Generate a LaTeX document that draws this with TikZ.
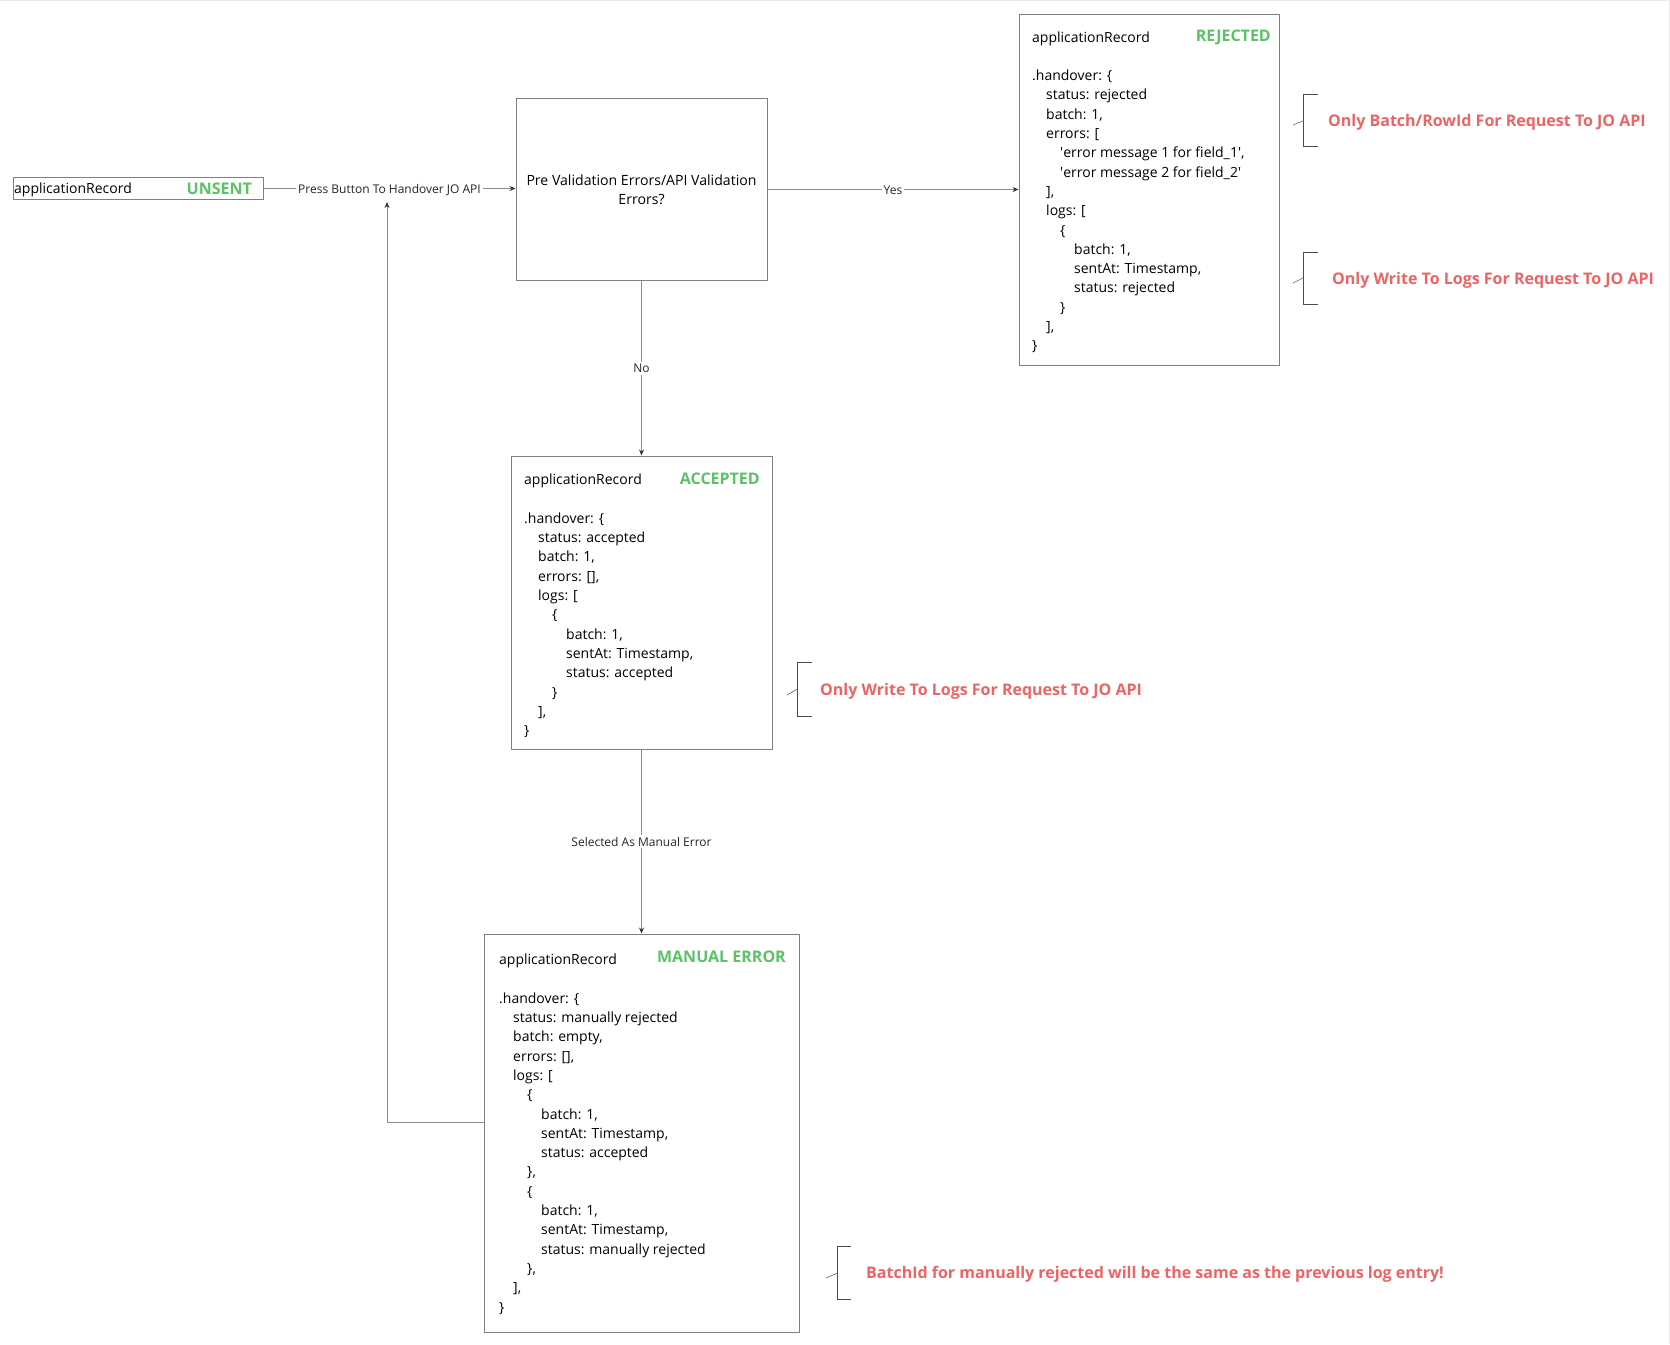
\documentclass[tikz,border=0pt]{standalone}
\usepackage{fontspec}
\setmainfont{Open Sans}
\usetikzlibrary{arrows.meta}
\definecolor{boxgray}{HTML}{808080}
\definecolor{linegray}{HTML}{8C8C8C}
\definecolor{tipgray}{HTML}{333333}
\definecolor{okgreen}{HTML}{5BC266}
\definecolor{notered}{HTML}{EC6464}
\newcommand{\ind}{\hspace*{14pt}}
\newcommand{\sq}{\textquotesingle}
\begin{document}
\begin{tikzpicture}[x=1pt,y=-1pt,
  box/.style={draw=boxgray,line width=1pt,inner sep=0pt,rectangle},
  code/.style={inner sep=0pt,align=left,anchor=base west,font=\fontsize{14}{19.3}\selectfont},
  statelbl/.style={inner sep=0pt,anchor=base east,text=okgreen,font=\fontsize{16}{18}\selectfont\bfseries},
  note/.style={inner sep=0pt,anchor=base west,text=notered,font=\fontsize{16}{18}\selectfont\bfseries},
  flow/.style={draw=linegray,line width=0.9pt,-{Stealth[length=6pt,width=5pt,color=tipgray]}},
  lbl/.style={fill=white,inner sep=2pt,font=\fontsize{12}{14}\selectfont,text=black!85},
  brace/.style={draw=black!70,line width=0.9pt},
  tick/.style={draw=black!60,line width=0.6pt}
]
\useasboundingbox (0,0) rectangle (1670,1344);
\fill[white] (0,0) rectangle (1670,1344);
\draw[black!8] (0,0.5) -- (1669.5,0.5) -- (1669.5,1344);

% UNSENT
\node[box,minimum width=250pt,minimum height=22pt] (unsent) at (138,188.5) {};
\node[code] (unsentTxt) at (14,193.5) {applicationRecord};
\node[statelbl] (unsentSt) at (252,194.5) {UNSENT};

% decision
\node[box,minimum width=251pt,minimum height=182pt,align=center,font=\fontsize{14.1}{19.3}\selectfont] (decision) at (641.5,189.5) {Pre Validation Errors/API Validation\\Errors?};

% REJECTED  (anchor = baseline of the last line)
\node[box,minimum width=260pt,minimum height=351pt] (rejected) at (1149,189.5) {};
\node[code] (rejTxt) at (1032,350.8) {applicationRecord\\[19.3pt]
.handover: \{\\
\ind status: rejected\\
\ind batch: 1,\\
\ind errors: [\\
\ind\ind \sq error message 1 for field\_1\sq,\\
\ind\ind \sq error message 2 for field\_2\sq\\
\ind ],\\
\ind logs: [\\
\ind\ind \{\\
\ind\ind\ind batch: 1,\\
\ind\ind\ind sentAt: Timestamp,\\
\ind\ind\ind status: rejected\\
\ind\ind \}\\
\ind ],\\
\}};
\node[statelbl] (rejSt) at (1271,41.5) {REJECTED};

% ACCEPTED
\node[box,minimum width=261pt,minimum height=293pt] (accepted) at (641.5,602.5) {};
\node[code] (accTxt) at (524,735.6) {applicationRecord\\[19.3pt]
.handover: \{\\
\ind status: accepted\\
\ind batch: 1,\\
\ind errors: [],\\
\ind logs: [\\
\ind\ind \{\\
\ind\ind\ind batch: 1,\\
\ind\ind\ind sentAt: Timestamp,\\
\ind\ind\ind status: accepted\\
\ind\ind \}\\
\ind ],\\
\}};
\node[statelbl] (accSt) at (760,484) {ACCEPTED};

% MANUAL ERROR
\node[box,minimum width=315pt,minimum height=398pt] (manual) at (641.5,1133) {};
\node[code] (manTxt) at (499,1312) {applicationRecord\\[19.3pt]
.handover: \{\\
\ind status: manually rejected\\
\ind batch: empty,\\
\ind errors: [],\\
\ind logs: [\\
\ind\ind \{\\
\ind\ind\ind batch: 1,\\
\ind\ind\ind sentAt: Timestamp,\\
\ind\ind\ind status: accepted\\
\ind\ind \},\\
\ind\ind \{\\
\ind\ind\ind batch: 1,\\
\ind\ind\ind sentAt: Timestamp,\\
\ind\ind\ind status: manually rejected\\
\ind\ind \},\\
\ind ],\\
\}};
\node[statelbl] (manSt) at (786,962.5) {MANUAL ERROR};

% connectors
\coordinate (loopTop) at (387,202);
\draw[flow] (unsent.east) -- node[lbl,yshift=-1.5pt] (lblPress) {Press Button To Handover JO API} (unsent.east -| decision.west);
\draw[flow] (decision.east) -- node[lbl,yshift=-1pt] (lblYes) {Yes} (decision.east -| rejected.west);
\draw[flow] (decision.south) -- node[lbl] (lblNo) {No} (accepted.north);
\draw[flow] (accepted.south) -- node[lbl] (lblMan) {Selected As Manual Error} (manual.north);
\draw[flow] ([yshift=11pt]manual.west) -| (loopTop);

% notes with brackets
\draw[brace] (1318,94) -- (1303,94) -- (1303,146) -- (1318,146);
\draw[tick] (1303,121) -- (1293,125);
\node[note] (note1) at (1328,126.5) {Only Batch/RowId For Request To JO API};

\draw[brace] (1318,252) -- (1303,252) -- (1303,304) -- (1318,304);
\draw[tick] (1303,278) -- (1293,283);
\node[note] (note2) at (1332,284) {Only Write To Logs For Request To JO API};

\draw[brace] (812,662) -- (797.5,662) -- (797.5,716) -- (812,716);
\draw[tick] (797.5,689) -- (787,695);
\node[note] (note3) at (820,695.5) {Only Write To Logs For Request To JO API};

\draw[brace] (851,1246) -- (837.5,1246) -- (837.5,1299) -- (851,1299);
\draw[tick] (837.5,1273) -- (826,1278);
\node[note] (note4) at (866,1278.5) {BatchId for manually rejected will be the same as the previous log entry!};
\end{tikzpicture}
\end{document}
